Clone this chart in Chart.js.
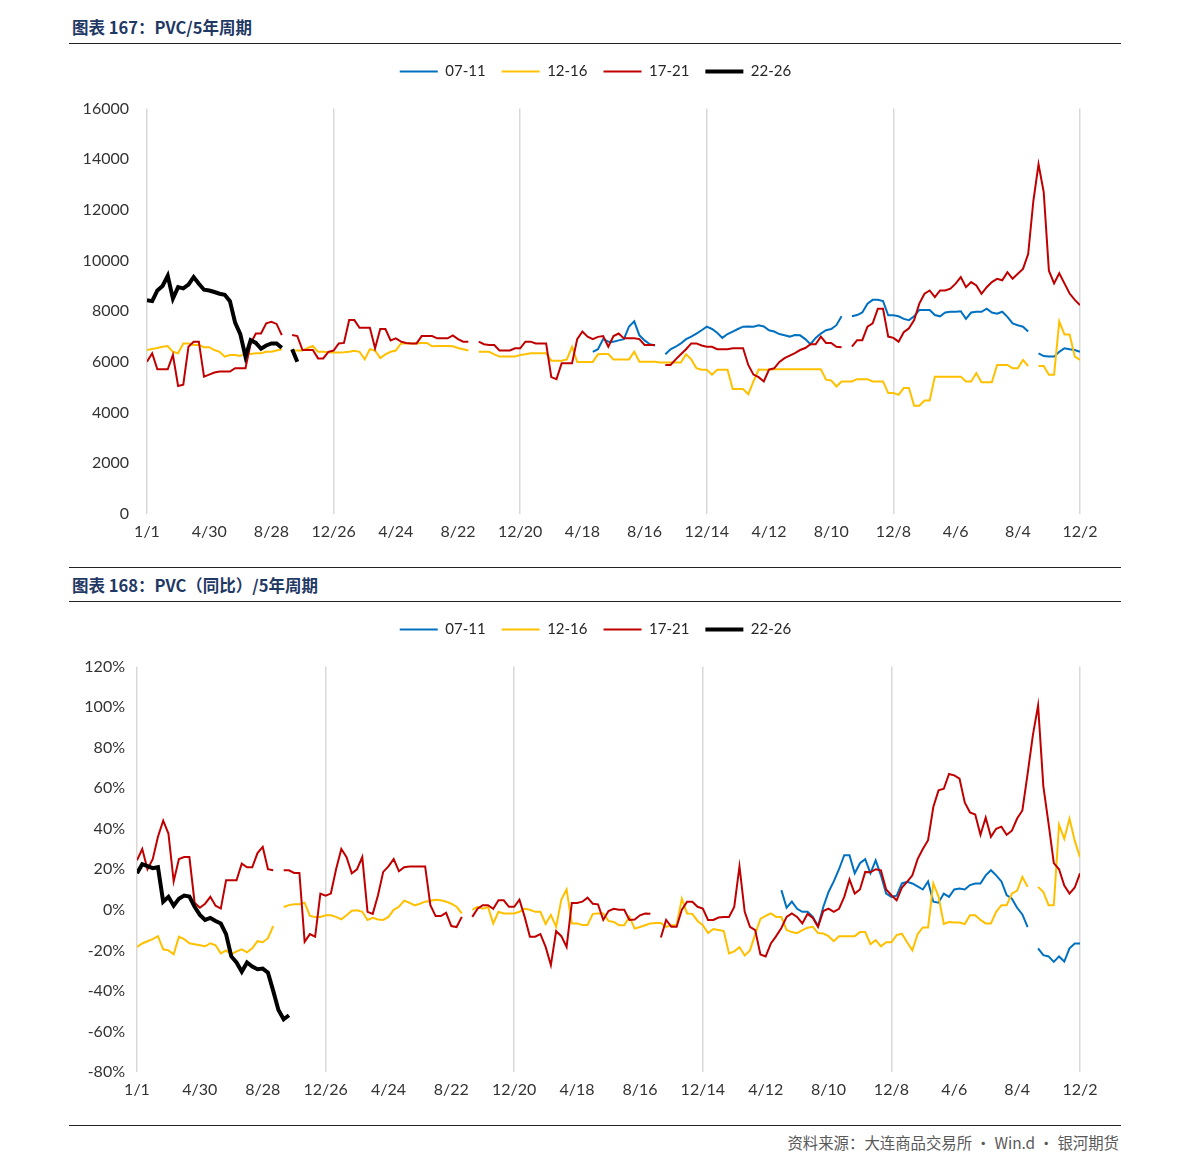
<!DOCTYPE html>
<html>
<head>
<meta charset="utf-8">
<script src="https://cdn.jsdelivr.net/npm/chart.js@4.4.1/dist/chart.umd.min.js"></script>
<style>
body { margin:0; background:#fff; width:1191px; height:1172px; position:relative; overflow:hidden; font-family:'Noto Sans CJK SC', sans-serif; }
.title { position:absolute; left:72px; font-size:16.5px; font-weight:bold; color:#1f3864; line-height:20px; }
.rule { position:absolute; left:69px; width:1052px; height:0; border-top:1.5px solid #222; }
.box { position:absolute; left:0; width:1191px; height:496px; }
.src { position:absolute; right:72px; top:1132px; font-size:15.4px; color:#595959; line-height:20px; }
</style>
</head>
<body>
<div class="title" style="top:17px">图表 167：PVC/5年周期</div>
<div class="rule" style="top:43px"></div>
<div class="box" style="top:48px"><canvas id="c1"></canvas></div>
<div class="rule" style="top:567px"></div>
<div class="title" style="top:575px">图表 168：PVC（同比）/5年周期</div>
<div class="rule" style="top:601px"></div>
<div class="box" style="top:606px"><canvas id="c2"></canvas></div>
<div class="rule" style="top:1125px"></div>
<div class="src">资料来源：大连商品交易所 · Win.d · 银河期货</div>
<script>
// x axis: day of the 5-year cycle, sampled every 10 days
var days = []
for (var d = 0; d <= 1800; d += 10) days.push(d)
var tickLabels = ['1/1', '4/30', '8/28', '12/26', '4/24', '8/22', '12/20', '4/18', '8/16', '12/14', '4/12', '8/10', '12/8', '4/6', '8/4', '12/2']
var names = ['07-11', '12-16', '17-21', '22-26']

// chart 167: price
var blueTopStart = 860
var blueTop = [6400, 6500, 6900, 6800,
    6800, 6850, 6900, 7400, 7600, 7050, 6850, 6700, 6650, null,
    6300, 6500, 6600, 6730, 6900, 7000, 7120, 7250, 7390, 7300,
    7150, 6950, 7100, 7200, 7300, 7390, 7400, 7390, 7450, 7400,
    7250, 7200, 7100, 7050, 7000, 7060, 7050, 6900, 6700, 6950,
    7120, 7250, 7300, 7450, 7800, null, 7800, 7850, 7950, 8300,
    8450, 8450, 8400, 7840, 7840, 7800, 7700, 7650, 7800, 8050,
    8050, 8050, 7850, 7800, 7950, 7980, 7980, 8000, 7700, 7950,
    7980, 7980, 8100, 7950, 7900, 7980, 7780, 7520, 7450, 7390,
    7200, null, 6340, 6230, 6210, 6210, 6400, 6540, 6500, 6470,
    6400]
var yellowTop = [6470, 6510, 6550, 6600, 6630, 6400, 6340, 6730, 6730, 6670,
    6670, 6580, 6580, 6470, 6400, 6210, 6270, 6270, 6235, 6370,
    6310, 6340, 6340, 6400, 6400, 6450, 6500, null, 6450, 6450,
    6450, 6550, 6630, 6400, 6400, 6380, 6370, 6370, 6380, 6400,
    6440, 6400, 6100, 6500, 6450, 6150, 6300, 6400, 6450, 6730,
    6730, 6730, 6730, 6750, 6750, 6620, 6630, 6630, 6630, 6620,
    6550, 6500, 6450, null, 6400, 6400, 6400, 6300, 6210, 6210,
    6210, 6210, 6270, 6300, 6340, 6340, 6340, 6340, 6050, 6050,
    6050, 6100, 6600, 6000, 6000, 6000, 6000, 6300, 6310, 6310,
    6100, 6100, 6100, 6100, 6400, 6010, 6010, 6010, 6010, 5975,
    5975, 5975, 5975, 5975, 6300, 6100, 5750, 5690, 5690, 5500,
    5690, 5690, 5690, 4930, 4930, 4930, 4730, 5230, 5700, 5690,
    5690, 5710, 5710, 5710, 5710, 5710, 5710, 5710, 5710, 5710,
    5710, 5300, 5270, 5030, 5230, 5230, 5230, 5320, 5320, 5320,
    5230, 5230, 5230, 4770, 4770, 4700, 4970, 4970, 4270, 4270,
    4480, 4480, 5420, 5420, 5420, 5420, 5420, 5420, 5230, 5230,
    5560, 5200, 5200, 5200, 5880, 5880, 5880, 5750, 5750, 6080,
    5840, null, 5840, 5840, 5490, 5490, 7600, 7085, 7085, 6210,
    6080]
var redTop = [6010, 6340, 5710, 5710, 5710, 6275, 5050, 5100, 6600, 6800,
    6800, 5420, 5500, 5580, 5620, 5620, 5620, 5750, 5750, 5750,
    6730, 7120, 7120, 7520, 7580, 7500, 7060, null, 7060, 7020,
    6470, 6470, 6470, 6140, 6140, 6400, 6450, 6730, 6750, 7650,
    7650, 7350, 7350, 7350, 6540, 7300, 7300, 6850, 6930, 6800,
    6750, 6730, 6730, 7020, 7020, 7020, 6930, 6930, 6930, 7050,
    6900, 6800, 6800, null, 6800, 6700, 6670, 6670, 6450, 6450,
    6450, 6540, 6540, 6800, 6800, 6730, 6730, 6730, 5400, 5320,
    5950, 5950, 5950, 6900, 7200, 7000, 6900, 6990, 7020, 6600,
    7020, 7120, 6930, 6930, 6930, 6900, 6670, 6670, 6670, null,
    5880, 5880, 6100, 6300, 6500, 6730, 6730, 6650, 6600, 6600,
    6500, 6500, 6500, 6540, 6540, 6540, 5880, 5500, 5400, 5230,
    5700, 5750, 6000, 6150, 6250, 6350, 6470, 6550, 6700, 6700,
    7000, 6750, 6750, 6600, 6580, null, 6600, 6860, 6860, 7390,
    7520, 8100, 8100, 7000, 6950, 6800, 7170, 7330, 7650, 8300,
    8690, 8820, 8560, 8820, 8820, 8890, 9090, 9350, 8950, 9150,
    9020, 8690, 8950, 9150, 9280, 9220, 9540, 9280, 9480, 9670,
    10260, 12350, 13800, 12700, 9600, 9100, 9500, 9100, 8700, 8450,
    8240]
var blackTop = [8430, 8400, 8820, 9000, 9400, 8500, 8950, 8900, 9050, 9350,
    9085, 8850, 8820, 8760, 8690, 8650, 8400, 7550, 7100, 6210,
    6860, 6750, 6520, 6650, 6730, 6730, 6560, null, 6500, 6010]
var yTicksTop = [0, 16000, 2000]

// chart 168: year-on-year, %
var blueBotStart = 1230
var blueBot = [9.7, 1, 4, 0.5, -1, -1, -3.5,
    -8, 1.4, 8.8, 14, 20, 26.9, 26.9, 18, 23, 25,
    18, 24.4, 17, 8, 6.4, 7, 13, 13.8, 13, 11.5,
    10, 14, 4, 3.5, 8, 6.4, 10, 10.5, 10, 12.2,
    13, 13, 17, 19.5, 17, 14, 7.2, 5.5, 1, -2.3,
    -8.5, null, -19, -22.4, -23, -25.7, -23, -25.5, -19, -16.6,
    -16.6]
var yellowBot = [-18.3, -16.6, -15.5, -14.5, -13, -19.5, -20, -22, -13.3, -14.5,
    -16.5, -17, -17.5, -18, -16.5, -17.5, -21.5, -20, -22, -20.5,
    -19.5, -21, -19, -15.5, -16, -14, -8, null, 1.4, 2.3,
    2.7, 2.7, 3.5, -3, -3.5, -3.5, -2.7, -2.7, -3.5, -4.7,
    -2.7, -0.5, -0.2, -1, -5, -4, -4.8, -5, -3.5, 0,
    1.5, 4.5, 3.5, 2.2, 3, 4, 4.5, 5, 4.7, 4,
    3, 1.5, -1.8, null, 0, 1.5, 0.6, 1.4, -6.7, -1,
    -1.8, -1.8, -1.8, -1, 0.5, 0, -1, -1, -7, -2.5,
    -8.4, 5, 10, -6.7, -6.7, -7.5, -7.5, -2, -1.8, -1.8,
    -5.5, -6, -7.6, -7.6, -3.5, -9.3, -8.5, -7.6, -6.7, -6.5,
    -6.5, -8.4, -7.6, -7.6, 5.5, -1.8, -2, -5.5, -7.6, -11.5,
    -9.5, -10, -10.5, -21.5, -20.5, -18.5, -22.5, -20, -12, -4.5,
    -3, -1.8, -3.5, -3.5, -10, -11, -11.5, -10, -8.8, -8.4,
    -11.5, -11.7, -13, -15.5, -13, -13, -13, -13, -11, -11,
    -17, -15, -18, -16, -16, -12.5, -11.8, -16, -20, -12,
    -8.7, -8.7, 13, 6.5, -7, -6, -6.3, -6.3, -7, -2.7,
    -2.7, -5, -6.7, -6.7, -1, 2.3, 2.3, 8, 9.5, 16.2,
    11.3, null, 11.3, 8.8, 2.3, 2.3, 42, 35, 45, 34,
    26]
var redBot = [24.4, 30, 20, 25, 36, 44, 37.6, 14, 25, 26,
    26, 3.5, 1, 3, 6.4, 2, 0.6, 14.6, 14.6, 14.6,
    22.8, 21, 21, 28, 31, 20, 19.5, null, 19.5, 19.5,
    18.2, 18.2, -15.8, -12, -13.3, 8, 7, 8, 20, 30,
    26, 18, 20, 26, -1, -2, 7.2, 18.7, 21.4, 25,
    19, 21, 21.4, 21.4, 21.4, 21.4, 2.3, -3.1, -3.1, -1.5,
    -8, -8.5, -3.5, null, -3.5, 0.5, 2.3, 2.3, 0.5, 4.7,
    4.7, 1.5, 1.5, 5, -3.5, -13.3, -13.3, -12, -18.3, -27.3,
    -10.5, -13, -18.3, 3.4, 3.4, 4, 6, 3, 2.7, -5,
    -0.6, 0.5, 0, 0, -5, -4.8, -2.7, -1.8, -2, null,
    -13.7, -5, -8.4, -8.4, 0, 4, 4, 1.5, 0.6, -5,
    -5, -3.8, -3.5, -3.5, 1.4, 21.4, -1, -8.4, -10, -22,
    -23, -16.6, -13, -9, -3.5, -1.8, -3.5, -6.7, -2, -4,
    -8.4, -0.6, 0.6, -1, 0.5, 6.4, 15, 8, 10, 18.7,
    18.5, 20, 19.5, 10, 7.2, 4.7, 11, 13.8, 17, 25,
    30, 34.3, 50.7, 58.9, 59.7, 67, 66.3, 64.7, 53, 48,
    47, 37, 45.5, 36, 40, 41, 37, 39, 45, 49,
    67, 86, 100.8, 61, 42.5, 23, 20, 12, 8, 11,
    18]
var blackBot = [18, 22.5, 21.5, 20.5, 21, 4, 6.4, 2, 5.5, 7,
    6.5, 1.5, -2.5, -5, -4, -5.5, -6.8, -12, -23, -26,
    -30.5, -26, -28, -29.3, -29, -31, -40, -49.4, -54, -52]
var yTicksBot = [-80, 120, 20]

var colors = ['#0070c0', '#ffc000', '#c00000', '#000000']
var widths = [2, 2, 2, 4]
var fontFam = "Lato, 'Noto Sans', sans-serif"

// place a series that starts later in the cycle onto the full day axis
function pad(startDay, vals) {
    var out = []
    var s = startDay / 10
    for (var i = 0; i < days.length; i++) {
        var v = i - s
        out.push(v >= 0 && v < vals.length ? vals[v] : null)
    }
    return out
}

function makeChart(id, series, yt, yWidth, yPad, fmt) {
    var datasets = series.map(function (vals, i) {
        return {
            label: names[i],
            data: vals,
            borderColor: colors[i],
            backgroundColor: colors[i],
            borderWidth: widths[i],
            pointRadius: 0,
            pointHoverRadius: 0,
            tension: 0,
            order: 4 - i
        }
    })
    return new Chart(document.getElementById(id), {
        type: 'line',
        data: { labels: days, datasets: datasets },
        options: {
            responsive: true,
            maintainAspectRatio: false,
            animation: false,
            layout: { padding: 0 },
            plugins: {
                legend: {
                    position: 'top',
                    labels: {
                        usePointStyle: true,
                        pointStyle: 'line',
                        pointStyleWidth: 38,
                        padding: 16,
                        color: '#262626',
                        font: { family: fontFam, size: 15 },
                        sort: function (a, b) { return a.datasetIndex - b.datasetIndex }
                    }
                },
                // empty spacer between legend and plot
                title: {
                    display: true,
                    text: ' ',
                    weight: 500,
                    color: 'rgba(0,0,0,0)',
                    padding: { top: 9, bottom: 9.5 },
                    font: { size: 1, lineHeight: 1 }
                },
                tooltip: { enabled: false }
            },
            scales: {
                x: {
                    type: 'linear',
                    min: 0,
                    max: 1800,
                    afterFit: function (s) { s.height = 30 },
                    border: { display: false },
                    grid: {
                        drawTicks: false,
                        lineWidth: 1.5,
                        color: function (c) { return c.index % 3 === 0 ? '#d9d9d9' : 'rgba(0,0,0,0)' }
                    },
                    ticks: {
                        stepSize: 120,
                        autoSkip: false,
                        maxRotation: 0,
                        padding: 8,
                        color: '#333',
                        font: { family: fontFam, size: 16 },
                        callback: function (v, i) { return tickLabels[i] }
                    }
                },
                y: {
                    min: yt[0],
                    max: yt[1],
                    afterFit: function (s) { s.width = yWidth },
                    border: { display: false },
                    grid: { display: false, drawTicks: false },
                    ticks: {
                        stepSize: yt[2],
                        padding: yPad,
                        color: '#333',
                        font: { family: fontFam, size: 16 },
                        callback: fmt
                    }
                },
                // blank right margin so the legend centres on the page
                yr: {
                    type: 'linear',
                    position: 'right',
                    afterFit: function (s) { s.width = 111 },
                    border: { display: false },
                    grid: { display: false, drawTicks: false },
                    ticks: { display: false }
                }
            }
        }
    })
}

makeChart('c1', [pad(blueTopStart, blueTop), yellowTop, redTop, pad(0, blackTop)],
    yTicksTop, 147, 18, function (v) { return v })
makeChart('c2', [pad(blueBotStart, blueBot), yellowBot, redBot, pad(0, blackBot)],
    yTicksBot, 137, 12, function (v) { return v + '%' })
</script>
</body>
</html>
